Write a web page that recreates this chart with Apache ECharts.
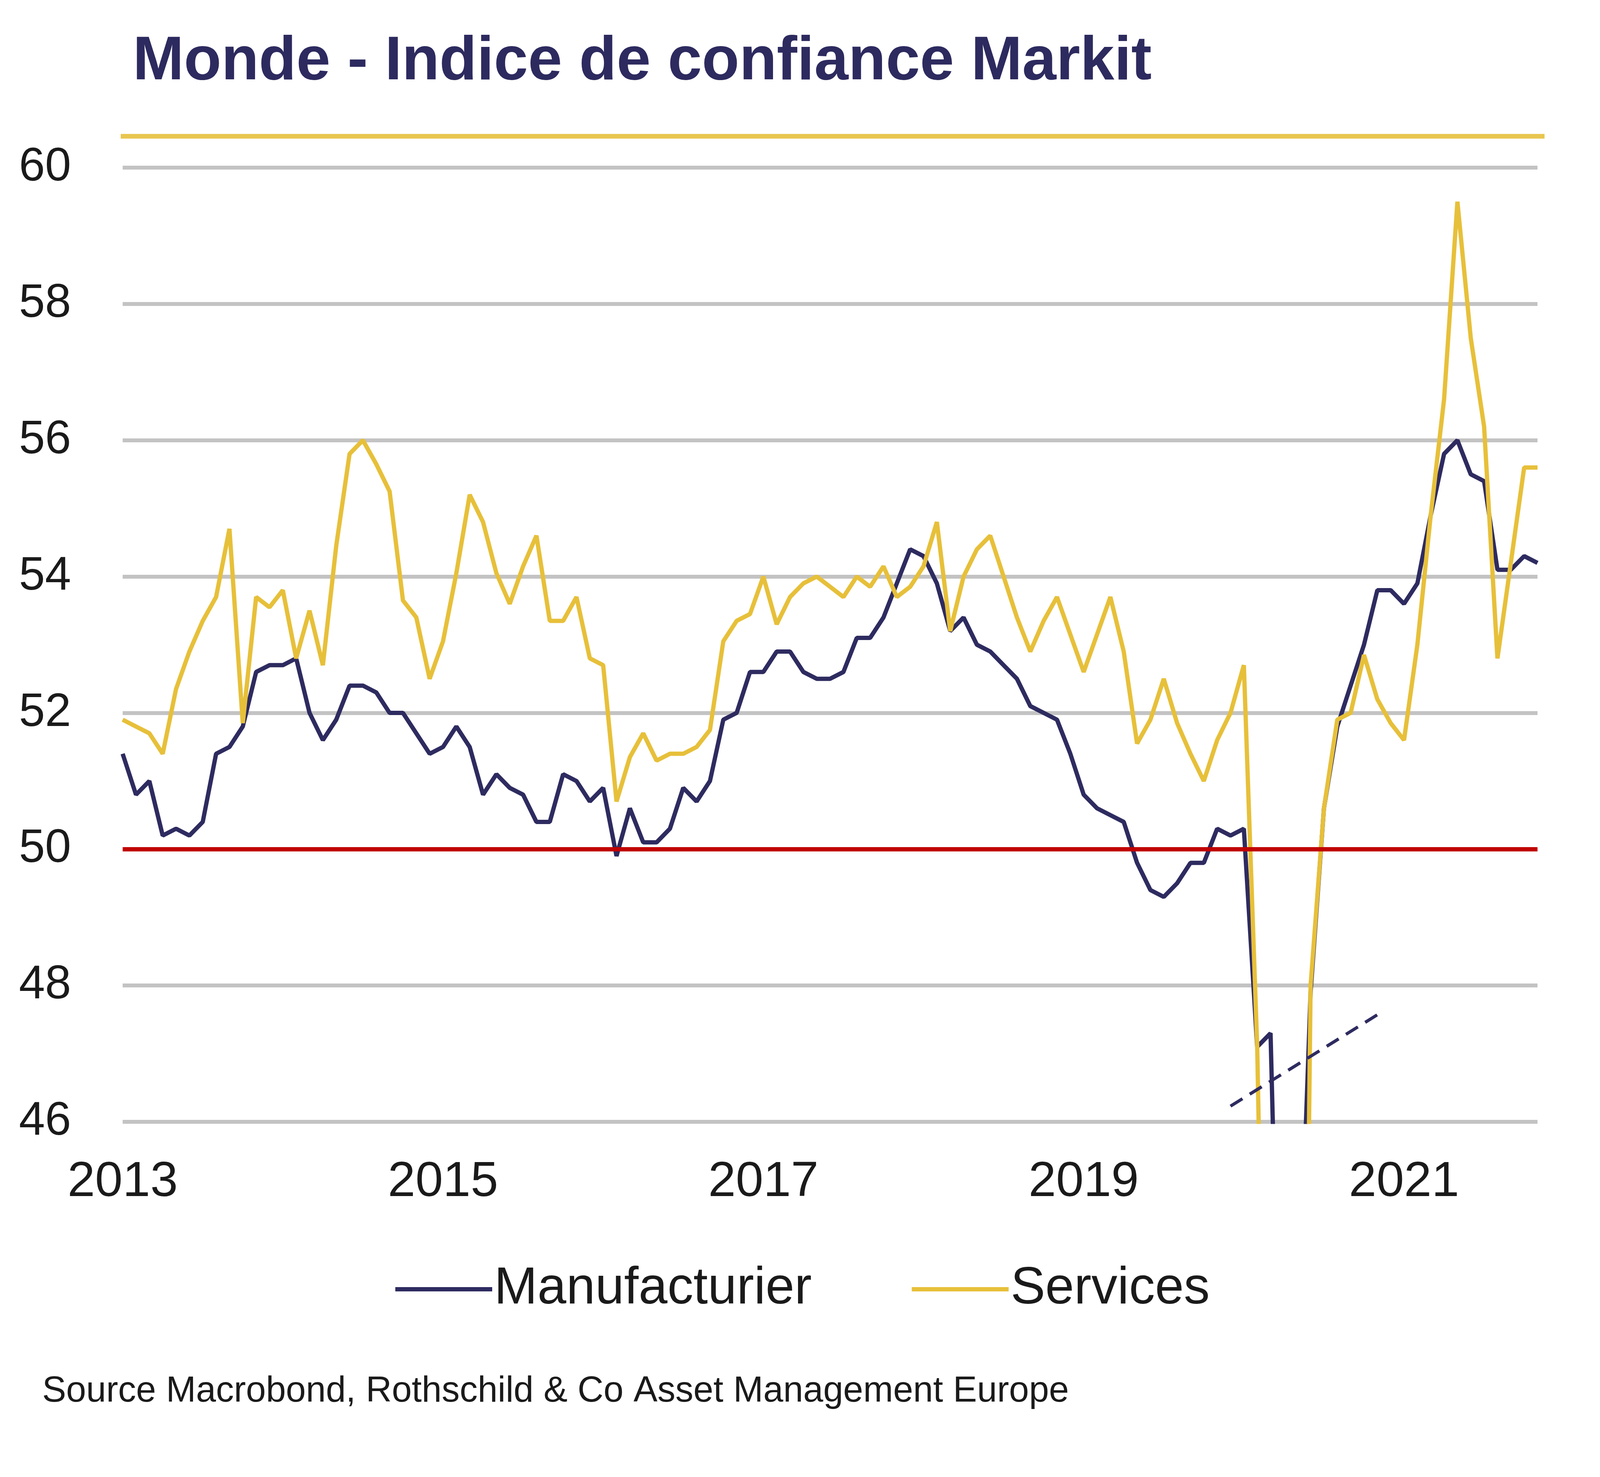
<!DOCTYPE html>
<html>
<head>
<meta charset="utf-8">
<title>Monde - Indice de confiance Markit</title>
<script src="https://cdn.jsdelivr.net/npm/echarts@6/dist/echarts.min.js"></script>
<style>
html, body { margin: 0; padding: 0; background: #ffffff; }
#pmi-chart { width: 4224px; height: 3780px; }
</style>
</head>
<body>
<div id="pmi-chart"></div>
<script>
var pmichart = echarts.init(document.getElementById('pmi-chart'));

// mois, de janvier 2013 a novembre 2021
var months = [];
for (var y = 2013; y <= 2021; y++) {
    for (var m = 1; m <= 12; m++) {
        if (y === 2021 && m > 11) break;
        months.push(y + '-' + (m < 10 ? '0' + m : m));
    }
}

// PMI manufacturier
var manufacturier = [
    51.4, 50.8, 51.0, 50.2, 50.3, 50.2, 50.4, 51.4, 51.5, 51.8, 52.6, 52.7,
    52.7, 52.8, 52.0, 51.6, 51.9, 52.4, 52.4, 52.3, 52.0, 52.0, 51.7, 51.4,
    51.5, 51.8, 51.5, 50.8, 51.1, 50.9, 50.8, 50.4, 50.4, 51.1, 51.0, 50.7,
    50.9, 49.9, 50.6, 50.1, 50.1, 50.3, 50.9, 50.7, 51.0, 51.9, 52.0, 52.6,
    52.6, 52.9, 52.9, 52.6, 52.5, 52.5, 52.6, 53.1, 53.1, 53.4, 53.9, 54.4,
    54.3, 53.9, 53.2, 53.4, 53.0, 52.9, 52.7, 52.5, 52.1, 52.0, 51.9, 51.4,
    50.8, 50.6, 50.5, 50.4, 49.8, 49.4, 49.3, 49.5, 49.8, 49.8, 50.3, 50.2,
    50.3, 47.1, 47.3, 39.6, 42.4, 47.9, 50.6, 51.8, 52.4, 53.0, 53.8, 53.8,
    53.6, 53.9, 54.9, 55.8, 56.0, 55.5, 55.4, 54.1, 54.1, 54.3, 54.2
];

// PMI services
var services = [
    51.9, 51.8, 51.7, 51.4, 52.35, 52.9, 53.35, 53.7, 54.7, 51.85, 53.7, 53.55,
    53.8, 52.8, 53.5, 52.7, 54.45, 55.8, 56.0, 55.65, 55.25, 53.65, 53.4, 52.5,
    53.05, 54.05, 55.2, 54.8, 54.05, 53.6, 54.15, 54.6, 53.35, 53.35, 53.7, 52.8,
    52.7, 50.7, 51.35, 51.7, 51.3, 51.4, 51.4, 51.5, 51.75, 53.05, 53.35, 53.45,
    54.0, 53.3, 53.7, 53.9, 54.0, 53.85, 53.7, 54.0, 53.85, 54.15, 53.7, 53.85,
    54.15, 54.8, 53.2, 54.0, 54.4, 54.6, 54.0, 53.4, 52.9, 53.35, 53.7, 53.15,
    52.6, 53.15, 53.7, 52.9, 51.55, 51.9, 52.5, 51.85, 51.4, 51.0, 51.6, 52.0,
    52.7, 47.1, 37.0, 23.7, 30.7, 48.0, 50.6, 51.9, 52.0, 52.85, 52.2, 51.85,
    51.6, 53.0, 54.9, 56.6, 59.5, 57.5, 56.2, 52.8, 54.2, 55.6, 55.6
];

var yTicks = [46, 48, 50, 52, 54, 56, 58, 60];
var seuil = 50;           // ligne rouge
var ligneHaute = 60.46;   // trait jaune au-dessus de la zone
// trait pointille de rupture d'axe
var rupture = [['2019-12', 46.23], ['2020-11', 47.57]];

var navy = '#2e2b60';
var jaune = '#e7c03a';
var police = '"Liberation Sans", Arial, sans-serif';

option = {
    animation: false,
    backgroundColor: '#ffffff',
    grid: {
        left: 314,
        right: 288,
        top: 429,
        bottom: 909
    },
    legend: {
        data: ['Manufacturier', 'Services'],
        left: 1007,
        top: 3228,
        icon: 'rect',
        itemWidth: 248,
        itemHeight: 11,
        itemGap: 256,
        textStyle: {
            fontSize: 133,
            fontFamily: police,
            color: '#1a1a1a'
        }
    },
    xAxis: {
        type: 'category',
        data: months,
        boundaryGap: false,
        axisLine: { show: false },
        axisTick: { show: false },
        splitLine: { show: false },
        axisLabel: {
            interval: function (index) {
                return index % 24 === 0;
            },
            formatter: function (v) {
                return v.slice(0, 4);
            },
            margin: 91,
            fontSize: 127,
            fontFamily: police,
            color: '#1a1a1a'
        }
    },
    yAxis: {
        type: 'value',
        min: yTicks[0],
        max: yTicks[yTicks.length - 1],
        interval: 2,
        axisLine: { show: false },
        axisTick: { show: false },
        splitLine: {
            lineStyle: { color: '#c3c3c3', width: 10 }
        },
        axisLabel: {
            margin: 132,
            fontSize: 120,
            fontFamily: police,
            color: '#1a1a1a'
        }
    },
    series: [
        {
            name: 'Manufacturier',
            type: 'line',
            data: manufacturier,
            symbol: 'none',
            clip: true,
            lineStyle: { color: navy, width: 11 },
            itemStyle: { color: navy },
            markLine: {
                silent: true,
                symbol: ['none', 'none'],
                label: { show: false },
                data: [
                    { yAxis: seuil, lineStyle: { color: '#c00000', width: 11, type: 'solid' } },
                    [
                        { coord: rupture[0], lineStyle: { color: navy, width: 8, type: [36, 22] } },
                        { coord: rupture[1], lineStyle: { color: navy, width: 8, type: [36, 22] } }
                    ]
                ]
            },
            z: 2
        },
        {
            name: 'Services',
            type: 'line',
            data: services,
            symbol: 'none',
            clip: true,
            lineStyle: { color: jaune, width: 11 },
            itemStyle: { color: jaune },
            z: 3
        }
    ],
    graphic: [
        {
            type: 'text',
            id: 'titre',
            x: 340,
            y: 160,
            style: {
                text: 'Monde - Indice de confiance Markit',
                font: 'bold 157px ' + police,
                fill: '#2d2a5f',
                verticalAlign: 'middle'
            }
        },
        {
            type: 'text',
            id: 'source',
            x: 108,
            y: 3562,
            style: {
                text: 'Source Macrobond, Rothschild & Co Asset Management Europe',
                font: '92px ' + police,
                fill: '#1a1a1a',
                verticalAlign: 'middle'
            }
        }
    ]
};

pmichart.setOption(option);

// trait jaune du haut, place avec l'echelle de l'axe
var yHaut = pmichart.convertToPixel({ yAxisIndex: 0 }, ligneHaute);
var gauche = pmichart.convertToPixel({ xAxisIndex: 0 }, months[0]);
var droite = pmichart.convertToPixel({ xAxisIndex: 0 }, months[months.length - 1]);
pmichart.setOption({
    graphic: [
        {
            type: 'line',
            id: 'ligneHaute',
            shape: { x1: gauche - 5, y1: yHaut, x2: droite + 18, y2: yHaut },
            style: { stroke: '#e8c64f', lineWidth: 12 },
            z: 5
        }
    ]
});
</script>
</body>
</html>
